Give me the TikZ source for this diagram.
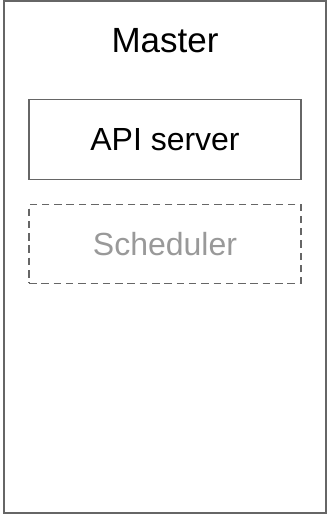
\documentclass[tikz,border=0pt]{standalone}
\usepackage{fontspec}
\setmainfont{Liberation Sans}
\definecolor{framegray}{HTML}{666666}
\definecolor{textgray}{HTML}{999999}
\begin{document}
\begin{tikzpicture}[x=1pt, y=-1pt]
\useasboundingbox (0,0) rectangle (327,515);

\draw[framegray, line width=2pt] (3.5,1) rectangle (325.5,513);

\node (title) at (165,40.5) {\fontsize{35}{40}\selectfont Master};
\node[draw=framegray, line width=1.4pt, minimum width=272pt, minimum height=80pt] (api) at (165,139.5) {\fontsize{32}{36}\selectfont API server};
\node[draw=framegray, line width=1.4pt, dash pattern=on 7.5pt off 4.8pt, text=textgray, minimum width=272pt, minimum height=79pt] (sched) at (165,243.7) {\fontsize{32}{36}\selectfont Scheduler};
\end{tikzpicture}
\end{document}
